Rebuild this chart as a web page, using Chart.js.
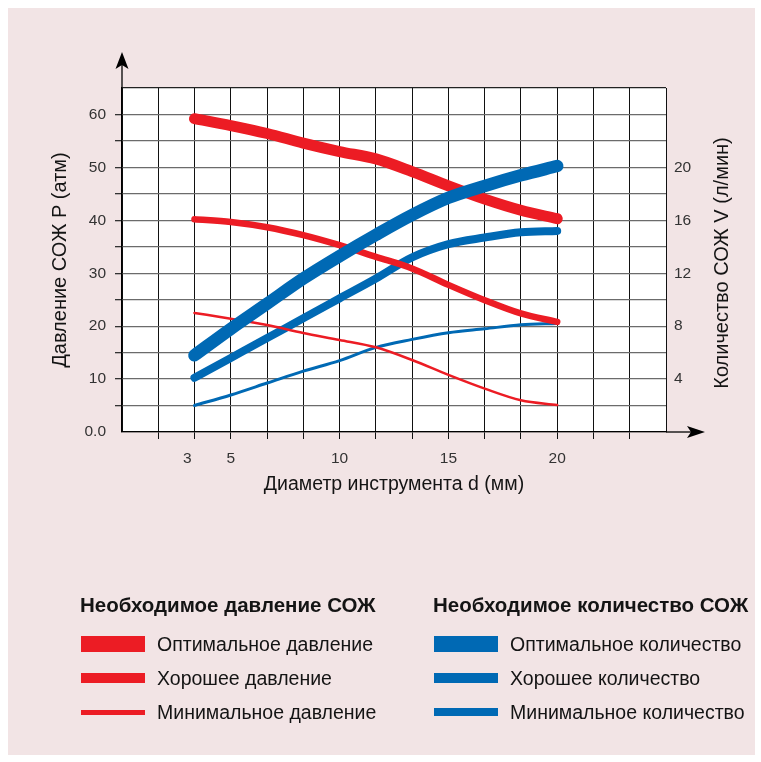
<!DOCTYPE html>
<html>
<head>
<meta charset="utf-8">
<script src="https://cdn.jsdelivr.net/npm/chart.js@4.4.1/dist/chart.umd.min.js"></script>
<style>
  html, body { margin: 0; padding: 0; background: #ffffff; }
  #wrap { position: relative; width: 761px; height: 762px; overflow: hidden; background: #ffffff; }
  #bg { position: absolute; left: 8px; top: 8px; width: 747px; height: 747px; background: #f2e4e5; }
  #chart { position: absolute; left: 0; top: 0; }
  .lg { position: absolute; font-family: "Liberation Sans", Arial, sans-serif; color: #141414; white-space: nowrap; }
  .lg-title { font-weight: bold; font-size: 20.5px; line-height: 22px; }
  .lg-text { font-size: 19.5px; line-height: 22px; }
  .sw { position: absolute; }
</style>
</head>
<body>
<div id="wrap">
  <div id="bg"></div>
  <canvas id="chart" width="761" height="762"></canvas>
</div>
<script>
// ---------------- DATA ----------------
const diameters = [3.33, 5, 6.67, 8.33, 10, 11.67, 13.33, 15, 16.67, 18.33, 20];   // d, mm
// Pressure P (atm) - left axis
const pressureOptimal = [59.2, 57.9, 56.4, 54.6, 53.0, 51.6, 49.2, 46.5, 44.0, 41.9, 40.3];
const pressureGood    = [40.2, 39.7, 38.7, 37.2, 35.3, 33.1, 30.9, 27.8, 24.9, 22.4, 20.8];
const pressureMinimal = [22.5, 21.4, 20.2, 18.7, 17.4, 16.0, 13.6, 10.8, 8.2, 6.0, 5.1];
// Flow V (l/min) - right axis
const flowOptimal = [5.8, 7.8, 9.7, 11.6, 13.3, 14.9, 16.4, 17.7, 18.6, 19.4, 20.1];
const flowGood    = [4.1, 5.6, 7.1, 8.6, 10.1, 11.6, 13.2, 14.2, 14.7, 15.1, 15.2];
const flowMinimal = [2.0, 2.8, 3.7, 4.6, 5.4, 6.4, 7.0, 7.5, 7.8, 8.1, 8.2];

const xTickLabels = [3, 5, 10, 15, 20];
const pressureTickLabels = [0, 10, 20, 30, 40, 50, 60];
const flowTickLabels = [4, 8, 12, 16, 20];

const pressureNames = ['Оптимальное давление', 'Хорошее давление', 'Минимальное давление'];
const flowNames = ['Оптимальное количество', 'Хорошее количество', 'Минимальное количество'];
const legendTitles = ['Необходимое давление СОЖ', 'Необходимое количество СОЖ'];

const xTitle = 'Диаметр инструмента d (мм)';
const yTitle = 'Давление СОЖ P (атм)';
const y1Title = 'Количество СОЖ V (л/мин)';

// ---------------- STYLE ----------------
const RED = '#ec1c24';
const BLUE = '#0069b4';
const FONT = '"Liberation Sans", Arial, sans-serif';

function series(label, ys, color, width, axis, order) {
  return {
    label: label,
    data: diameters.map((d, i) => ({ x: d, y: ys[i] })),
    borderColor: color,
    backgroundColor: color,
    borderWidth: width,
    yAxisID: axis,
    order: order,
    pointRadius: 0,
    pointHoverRadius: 0,
    fill: false,
    cubicInterpolationMode: 'monotone',
    borderCapStyle: 'round',
    borderJoinStyle: 'round'
  };
}

const datasets = [
  series(flowNames[0], flowOptimal, BLUE, 12.5, 'y1', 0),
  series(pressureNames[0], pressureOptimal, RED, 11, 'y', 1),
  series(pressureNames[1], pressureGood, RED, 6.5, 'y', 2),
  series(pressureNames[2], pressureMinimal, RED, 2.5, 'y', 3),
  series(flowNames[1], flowGood, BLUE, 8, 'y1', 4),
  series(flowNames[2], flowMinimal, BLUE, 3, 'y1', 5)
];

const near = (a, b) => Math.abs(a - b) < 1e-6;

const plotBg = {
  id: 'plotBg',
  beforeDraw(chart) {
    const a = chart.chartArea, c = chart.ctx;
    c.save();
    c.fillStyle = '#ffffff';
    c.fillRect(a.left, a.top, a.right - a.left, a.bottom - a.top);
    c.restore();
  }
};

const arrows = {
  id: 'arrows',
  afterDraw(chart) {
    const a = chart.chartArea, c = chart.ctx;
    c.save();
    c.strokeStyle = '#000';
    c.fillStyle = '#000';
    c.lineWidth = 1.3;
    // y axis extension
    c.beginPath();
    c.moveTo(a.left, a.top);
    c.lineTo(a.left, a.top - 30);
    c.stroke();
    const tx = a.left, ty = a.top - 36;
    c.beginPath();
    c.moveTo(tx, ty);
    c.lineTo(tx - 6.5, ty + 17);
    c.lineTo(tx, ty + 13);
    c.lineTo(tx + 6.5, ty + 17);
    c.closePath();
    c.fill();
    // x axis extension
    c.beginPath();
    c.moveTo(a.right, a.bottom);
    c.lineTo(a.right + 30, a.bottom);
    c.stroke();
    const ax = a.right + 39, ay = a.bottom;
    c.beginPath();
    c.moveTo(ax, ay);
    c.lineTo(ax - 18, ay - 6);
    c.lineTo(ax - 14, ay);
    c.lineTo(ax - 18, ay + 6);
    c.closePath();
    c.fill();
    // right axis title (reads bottom-to-top)
    c.translate(722, (a.top + a.bottom) / 2 + 3);
    c.rotate(-Math.PI / 2);
    c.font = '20px ' + FONT;
    c.fillStyle = '#141414';
    c.textAlign = 'center';
    c.textBaseline = 'middle';
    c.fillText(y1Title, 0, 0);
    c.restore();
  }
};

new Chart(document.getElementById('chart'), {
  type: 'line',
  data: { datasets: datasets },
  plugins: [plotBg, arrows],
  options: {
    responsive: false,
    animation: false,
    devicePixelRatio: 1,
    layout: { padding: { top: 88, left: 0, right: 0, bottom: 262 } },
    plugins: { legend: { display: false }, tooltip: { enabled: false } },
    scales: {
      x: {
        type: 'linear',
        min: 0,
        max: 25,
        afterBuildTicks(s) {
          const t = [];
          for (let i = 0; i <= 15; i++) t.push({ value: i * 5 / 3 });
          t.push({ value: 3 });
          t.sort((p, q) => p.value - q.value);
          s.ticks = t;
        },
        afterFit(s) { s.height = 68; },
        grid: {
          color: (c) => (c.tick && near(c.tick.value, 3)) ? 'rgba(0,0,0,0)' : '#111',
          tickColor: (c) => (c.tick && (near(c.tick.value, 3) || near(c.tick.value, 0) || near(c.tick.value, 25))) ? 'rgba(0,0,0,0)' : '#111',
          lineWidth: 1,
          tickLength: 7
        },
        border: { display: true, color: '#000', width: 1.3 },
        ticks: {
          autoSkip: false,
          maxRotation: 0,
          padding: 10,
          color: '#333',
          font: { size: 15.5, family: FONT },
          callback: (v) => {
            const m = xTickLabels.find((l) => near(l, v));
            return m !== undefined ? String(m) : '';
          }
        },
        title: {
          display: true,
          text: xTitle,
          color: '#141414',
          font: { size: 19.5, family: FONT },
          padding: { top: 0, bottom: 4 }
        }
      },
      y: {
        position: 'left',
        min: 0,
        max: 65,
        afterFit(s) { s.width = 122; },
        grid: {
          color: (c) => (c.tick && c.tick.value === 65) ? '#222' : '#6b6b6b',
          tickColor: (c) => (c.tick && (c.tick.value === 0 || c.tick.value === 65)) ? 'rgba(0,0,0,0)' : '#333',
          lineWidth: 1.3,
          tickLength: 7
        },
        border: { display: true, color: '#000', width: 1.3 },
        ticks: {
          stepSize: 5,
          padding: 9,
          color: '#333',
          font: { size: 15.5, family: FONT },
          callback: (v) => v === 0 ? '0.0' : (pressureTickLabels.includes(v) ? String(v) : '')
        },
        title: {
          display: true,
          text: yTitle,
          color: '#141414',
          font: { size: 20, family: FONT },
          padding: { top: 48, bottom: 0 }
        }
      },
      y1: {
        position: 'right',
        min: 0,
        max: 26,
        afterFit(s) { s.width = 95; },
        grid: { drawOnChartArea: false, drawTicks: false },
        border: { display: false },
        ticks: {
          stepSize: 4,
          padding: 8,
          color: '#333',
          font: { size: 15.5, family: FONT },
          callback: (v) => flowTickLabels.includes(v) ? String(v) : ''
        }
      }
    }
  }
});

// ---------------- LEGEND (HTML) ----------------
const wrap = document.getElementById('wrap');
const groups = [
  { title: legendTitles[0], names: pressureNames, color: RED, x: 80, heights: [16, 10, 5] },
  { title: legendTitles[1], names: flowNames, color: BLUE, x: 433, heights: [16, 10, 8] }
];
const titleY = 605, rowY = [644, 678, 712];
groups.forEach((g) => {
  const t = document.createElement('div');
  t.className = 'lg lg-title';
  t.textContent = g.title;
  t.style.left = g.x + 'px';
  t.style.top = (titleY - 11) + 'px';
  wrap.appendChild(t);
  g.names.forEach((n, i) => {
    const sw = document.createElement('div');
    sw.className = 'sw';
    sw.style.left = (g.x + 1) + 'px';
    sw.style.width = '64px';
    sw.style.height = g.heights[i] + 'px';
    sw.style.top = (rowY[i] - g.heights[i] / 2) + 'px';
    sw.style.background = g.color;
    wrap.appendChild(sw);
    const tx = document.createElement('div');
    tx.className = 'lg lg-text';
    tx.textContent = n;
    tx.style.left = (g.x + 77) + 'px';
    tx.style.top = (rowY[i] - 11) + 'px';
    wrap.appendChild(tx);
  });
});
</script>
</body>
</html>
